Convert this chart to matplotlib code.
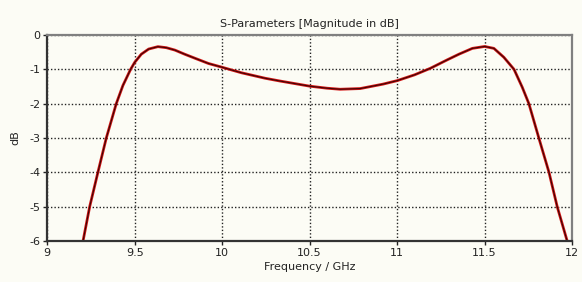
import matplotlib
matplotlib.use("Agg")
import matplotlib.pyplot as plt

# values (frequency in GHz, magnitude in dB)
freq = [9.205, 9.243, 9.29, 9.338, 9.395, 9.433, 9.477, 9.5, 9.538, 9.58,
        9.633, 9.681, 9.73, 9.786, 9.846, 9.922, 10.0, 10.11, 10.246, 10.33,
        10.5, 10.6, 10.674, 10.789, 10.92, 11.0, 11.1, 11.19, 11.284, 11.353,
        11.43, 11.5, 11.553, 11.61, 11.668, 11.715, 11.753, 11.81, 11.868,
        11.915, 11.972]
s_db = [-6, -5, -4, -3, -2, -1.47, -1.0, -0.8, -0.56, -0.41,
        -0.34, -0.37, -0.44, -0.56, -0.68, -0.83, -0.94, -1.1, -1.26, -1.34,
        -1.49, -1.55, -1.58, -1.56, -1.43, -1.33, -1.16, -0.97, -0.73, -0.56,
        -0.39, -0.335, -0.39, -0.65, -1.0, -1.52, -2.0, -3, -4,
        -5, -6]

xticks = [9, 9.5, 10, 10.5, 11, 11.5, 12]
xtick_labels = ["9", "9.5", "10", "10.5", "11", "11.5", "12"]
yticks = [0, -1, -2, -3, -4, -5, -6]

bg = "#fcfcf5"
fig = plt.figure(figsize=(5.82, 2.82), dpi=100, facecolor=bg)
ax = fig.add_axes([0.081, 0.145, 0.902, 0.731], facecolor=bg)

ax.plot(freq, s_db, color="#d41414", lw=2.0, solid_joinstyle="round")
ax.plot(freq, s_db, color="#3a0505", lw=0.8, solid_joinstyle="round")

ax.set_xlim(9, 12)
ax.set_ylim(-6, 0)
ax.set_xticks(xticks)
ax.set_xticklabels(xtick_labels)
ax.set_yticks(yticks)
ax.set_yticklabels([str(v) for v in yticks])

ax.grid(True, color="#222222", linestyle=(0, (1, 1.5)), linewidth=1.0)
ax.tick_params(direction="out", length=3, width=1, labelsize=8, colors="#222222", pad=2)

for side in ["left", "bottom"]:
    ax.spines[side].set_color("#333333")
    ax.spines[side].set_linewidth(1.6)
for side in ["top", "right"]:
    ax.spines[side].set_color("#808080")
    ax.spines[side].set_linewidth(1.6)

ax.set_title("S-Parameters [Magnitude in dB]", fontsize=8, color="#222222", pad=6)
ax.set_xlabel("Frequency / GHz", fontsize=8, color="#222222", labelpad=3)
ax.set_ylabel("dB", fontsize=8, color="#222222", labelpad=6)

fig.savefig("out.png", dpi=100, facecolor=bg)
